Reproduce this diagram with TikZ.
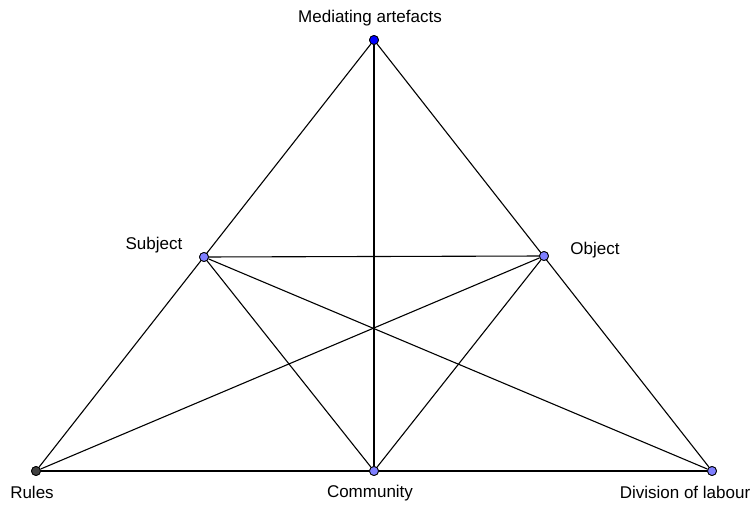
\documentclass[tikz,border=0pt]{standalone}
\usepackage{fontspec}
\setmainfont{Liberation Sans}
\usepackage{tikz}
\usetikzlibrary{positioning,calc}
\definecolor{ptblue}{HTML}{0000FF}
\definecolor{ptlight}{HTML}{7F7FFF}
\definecolor{ptdark}{HTML}{404040}

\begin{document}
\begin{tikzpicture}[
  x=1pt, y=1pt,
  line/.style={
    draw=black,
    line width=1.1pt,
  },
  pt/.style={
    circle, draw=black, line width=0.8pt,
    inner sep=0pt, minimum size=9pt,
    fill=ptlight,
  },
  lbl/.style={
    font=\fontsize{17}{19}\selectfont,
    text height=1.5ex, text depth=.25ex,
  }]
  \useasboundingbox (0,0) rectangle (752,504);
  % points
  \node[pt, fill=ptblue] (med) at (374,464) {};
  \node[pt] (sub) at (204,247) {};
  \node[pt] (obj) at (544,248) {};
  \node[pt, fill=ptdark] (rul) at (36,33) {};
  \node[pt] (com) at (374,33) {};
  \node[pt] (div) at (712,33) {};
  % connectors
  \foreach \a/\b in
  {med/rul, med/div, rul/div, med/com, sub/obj, sub/com, obj/com, sub/div, obj/rul}
  {
    \draw[line] (\a) -- (\b);
  }
  % redraw points on top
  \node[pt, fill=ptblue] at (med) {};
  \foreach \p in {sub, obj, com, div}
    \node[pt] at (\p) {};
  \node[pt, fill=ptdark] at (rul) {};
  % labels
  \node[lbl] (medl) at (370,485) {Mediating artefacts};
  \node[lbl] (subl) at (154,258) {Subject};
  \node[lbl] (objl) at (595,253) {Object};
  \node[lbl] (rull) at (32,9) {Rules};
  \node[lbl] (coml) at (370,10) {Community};
  \node[lbl] (divl) at (685,9) {Division of labour};
\end{tikzpicture}
\end{document}
